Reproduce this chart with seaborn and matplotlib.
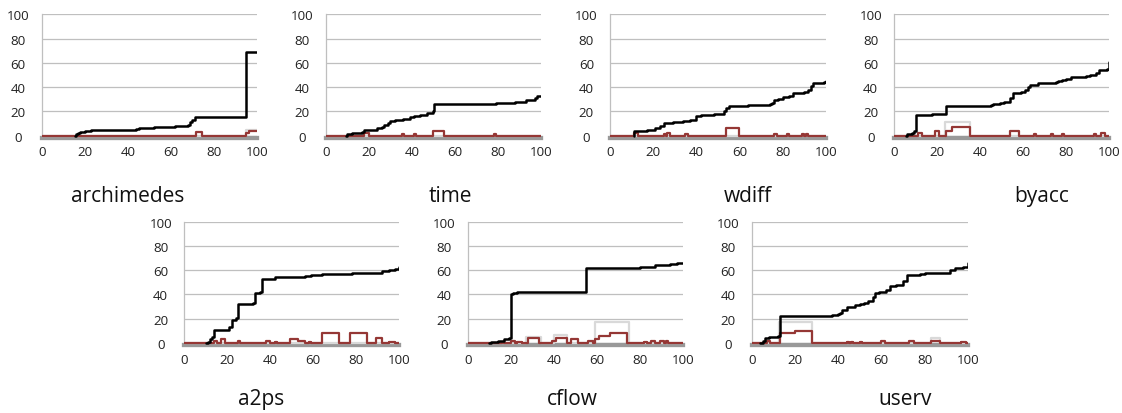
import matplotlib
matplotlib.use("Agg")
import matplotlib.pyplot as plt
import seaborn as sns
import pandas as pd

# ---------------- data (step series: breakpoints x, values y) ----------------
names = ["archimedes", "time", "wdiff", "byacc", "a2ps", "cflow", "userv"]
x_ticks = [0, 20, 40, 60, 80, 100]
y_ticks = [0, 20, 40, 60, 80, 100]

archimedes_black_x = [15.5, 16, 17, 18, 20, 21, 23, 44, 45, 52, 62, 68, 69, 70, 71, 75, 95, 100]
archimedes_black_y = [0, 1, 2, 3, 3.5, 4, 5, 5.5, 6.5, 7, 8, 9, 11, 13, 15, 15.5, 69, 69]
archimedes_red_x = [0, 71.5, 74.5, 95, 96.5, 100]
archimedes_red_y = [0, 3, 0, 2, 4, 4]
archimedes_gray_x = [0, 95, 100]
archimedes_gray_y = [0, 5, 5]

time_black_x = [9.5, 10, 12, 17, 18, 24, 26, 27, 29, 30, 32, 36, 39, 41, 44, 47, 50, 50.5, 79, 88, 93, 97, 98, 100]
time_black_y = [0, 1, 2, 3, 5, 6, 7, 9, 10, 12, 13, 14, 15, 16, 17, 19, 20, 26, 27, 28, 29, 31, 33, 33]
time_red_x = [0, 18, 20, 35.5, 36.5, 41, 42, 50, 55, 78, 79, 100]
time_red_y = [0, 2, 0, 1, 0, 1, 0, 4, 0, 1, 0, 0]
time_gray_x = [0, 100]
time_gray_y = [0, 0]

wdiff_black_x = [11, 11, 17, 21, 23, 25, 29, 34, 37, 40, 42, 48, 53, 54, 55, 64, 74, 75, 76, 78, 80, 83, 85, 90, 92, 93, 94, 99, 100]
wdiff_black_y = [0, 4, 5, 6, 8, 10, 11, 12, 13, 16, 17, 18, 20, 23, 24, 25, 26, 27, 29, 30, 32, 33, 35, 36, 38, 41, 43, 44, 45]
wdiff_red_x = [0, 11, 13, 25, 26, 26.5, 28, 35, 36, 54, 60, 76, 77.5, 82, 83, 89, 90, 91, 92, 100]
wdiff_red_y = [0, 2, 0, 1, 0, 2, 0, 1, 0, 6.5, 0, 1, 0, 1, 0, 1, 0, 1, 0, 0]
wdiff_gray_x = [0, 100]
wdiff_gray_y = [0, 0]

byacc_black_x = [5.5, 6, 8, 9, 10, 17.5, 24, 45, 46, 49, 51, 54, 55, 59, 61, 62, 63, 67, 75, 76, 78, 80, 82, 89, 91, 94, 95, 99, 100]
byacc_black_y = [0, 1, 2, 4, 17, 18, 24, 25, 26, 27, 28, 31, 35, 36, 38, 40, 42, 43, 44, 45, 46, 47, 48, 49, 50, 52, 54, 55, 61]
byacc_red_x = [0, 11, 13, 19, 21, 24, 27, 35, 54, 58, 65, 66, 73, 74, 78, 79, 93, 94, 96, 98, 100]
byacc_red_y = [0, 2, 0, 3.5, 0, 4, 7, 0, 4, 0, 1, 0, 1, 0, 1, 0, 1, 0, 2, 0, 0]
byacc_gray_x = [0, 23.5, 35, 100]
byacc_gray_y = [0, 11.5, 0, 0]

a2ps_black_x = [10, 11, 12, 13, 14, 21, 22, 24, 25, 32, 33, 35, 36, 42, 56, 59, 64, 78, 92, 95, 98, 100]
a2ps_black_y = [0, 1, 3, 5, 11, 13, 19, 21, 32, 33, 41, 42, 53, 54, 55, 56, 57, 58, 59, 60, 61, 63]
a2ps_red_x = [0, 14, 15, 17, 19, 25, 26, 38, 40, 42, 43, 49, 53, 56, 58, 59, 64, 72, 77, 85, 89, 92, 95, 98, 100]
a2ps_red_y = [0, 2, 0, 3, 0, 2, 0, 2, 0, 1, 0, 3, 2, 0, 1, 0, 8.5, 0, 8, 0, 4, 0, 1, 0, 0]
a2ps_gray_x = [0, 100]
a2ps_gray_y = [0, 0]

cflow_black_x = [10, 11, 14, 17, 19, 20, 21, 23, 55, 80, 87, 94, 97, 100]
cflow_black_y = [0, 1, 2, 3, 4, 40, 41, 42, 62, 63, 64, 65, 66, 66]
cflow_red_x = [0, 16, 17, 20, 22, 23, 25, 28, 33, 39, 41, 46, 48, 51, 56, 58, 59, 61, 66, 74, 82, 83, 85, 87, 89, 91, 92, 93, 100]
cflow_red_y = [0, 1, 0, 2, 0, 1, 0, 4, 0, 2, 4, 0, 3, 0, 2, 0, 3, 6, 8.5, 0, 1, 0, 2, 0, 2, 0, 2, 0, 0]
cflow_gray_x = [0, 27, 34, 40, 46, 59, 75, 100]
cflow_gray_y = [0, 5, 0, 7, 0, 17, 0, 0]

userv_black_x = [4, 5, 6, 8, 12, 13, 37, 40, 41, 42, 44, 48, 50, 52, 54, 56, 57, 59, 62, 64, 67, 70, 72, 78, 80, 92, 94, 98, 100]
userv_black_y = [0, 2, 4, 5, 6, 22, 23, 24, 25, 27, 30, 31, 32, 33, 35, 38, 41, 42, 44, 47, 48, 51, 56, 57, 58, 60, 62, 63, 66]
userv_red_x = [0, 7, 8.5, 13, 20, 28, 44, 45, 46, 47, 50, 51, 60, 61.5, 73, 75, 83, 87, 97, 99, 100]
userv_red_y = [0, 2, 0, 8, 9.5, 0, 1, 0, 1, 0, 1, 0, 2, 0, 2, 0, 2, 0, 1, 0, 0]
userv_gray_x = [0, 12.5, 28, 83, 87, 100]
userv_gray_y = [0, 17, 0, 4, 0, 0]

series = {
    "archimedes": (archimedes_black_x, archimedes_black_y, archimedes_red_x, archimedes_red_y, archimedes_gray_x, archimedes_gray_y),
    "time": (time_black_x, time_black_y, time_red_x, time_red_y, time_gray_x, time_gray_y),
    "wdiff": (wdiff_black_x, wdiff_black_y, wdiff_red_x, wdiff_red_y, wdiff_gray_x, wdiff_gray_y),
    "byacc": (byacc_black_x, byacc_black_y, byacc_red_x, byacc_red_y, byacc_gray_x, byacc_gray_y),
    "a2ps": (a2ps_black_x, a2ps_black_y, a2ps_red_x, a2ps_red_y, a2ps_gray_x, a2ps_gray_y),
    "cflow": (cflow_black_x, cflow_black_y, cflow_red_x, cflow_red_y, cflow_gray_x, cflow_gray_y),
    "userv": (userv_black_x, userv_black_y, userv_red_x, userv_red_y, userv_gray_x, userv_gray_y),
}

# ---------------- layout (pixels) ----------------
W, H = 1122, 414
# name: (left px, right px, y100 px, y0 px)
boxes = {
    "archimedes": (41.7, 257.0, 15.3, 136.6),
    "time": (325.7, 541.0, 15.3, 136.6),
    "wdiff": (610.0, 825.7, 15.3, 136.6),
    "byacc": (894.3, 1109.3, 15.3, 136.6),
    "a2ps": (184.3, 399.3, 222.7, 344.0),
    "cflow": (467.7, 683.3, 222.7, 344.0),
    "userv": (751.7, 967.7, 222.7, 344.0),
}
title_pos = {
    "archimedes": (128, 202), "time": (450, 202), "wdiff": (748, 202), "byacc": (1042, 202),
    "a2ps": (261, 405), "cflow": (572, 405), "userv": (905, 405),
}

sns.set_theme(style="white")
plt.rcParams["font.family"] = ["Open Sans", "DejaVu Sans"]

fig = plt.figure(figsize=(W / 100, H / 100), dpi=100)
YMIN = -4

for name in names:
    l, r, y100, y0 = boxes[name]
    ppu = (y0 - y100) / 100.0
    ybot = y0 - YMIN * ppu
    ax = fig.add_axes([l / W, 1 - ybot / H, (r - l) / W, (ybot - y100) / H])
    bx, by, rx, ry, gx, gy = series[name]
    sns.lineplot(x=gx, y=gy, ax=ax, color="#d9d9d9", lw=1.6, drawstyle="steps-post",
                 estimator=None, sort=False, zorder=3)
    sns.lineplot(x=rx, y=ry, ax=ax, color="#953735", lw=1.6, drawstyle="steps-post",
                 estimator=None, sort=False, zorder=4)
    sns.lineplot(x=bx, y=by, ax=ax, color="black", lw=1.8, drawstyle="steps-post",
                 estimator=None, sort=False, zorder=5)
    ax.set_xlim(0, 100)
    ax.set_ylim(YMIN, 100)
    ax.set_xticks(x_ticks)
    ax.set_yticks(y_ticks, labels=[str(v) for v in y_ticks])
    ax.grid(axis="y", color="#bfbfbf", lw=0.9)
    ax.grid(axis="x", visible=False)
    ax.set_axisbelow(True)
    for s in ["top", "right"]:
        ax.spines[s].set_visible(False)
    ax.spines["left"].set_color("#bfbfbf")
    ax.spines["left"].set_linewidth(0.9)
    ax.spines["left"].set_bounds(0, 100)
    ax.spines["bottom"].set_position(("data", -1.8))
    ax.spines["bottom"].set_color("#999999")
    ax.spines["bottom"].set_linewidth(3.1)
    ax.spines["bottom"].set_zorder(2)
    ax.tick_params(axis="both", length=0, labelsize=9.6, colors="#222222")
    ax.tick_params(axis="x", pad=5.5)
    ax.tick_params(axis="y", pad=17)
    for t in ax.get_yticklabels():
        t.set_horizontalalignment("center")
    ax.set_xlabel("")
    ax.set_ylabel("")
    tx, ty = title_pos[name]
    fig.text(tx / W, 1 - ty / H, name, ha="center", va="baseline", fontsize=15, color="#111111")

fig.savefig("out.png", dpi=100)
